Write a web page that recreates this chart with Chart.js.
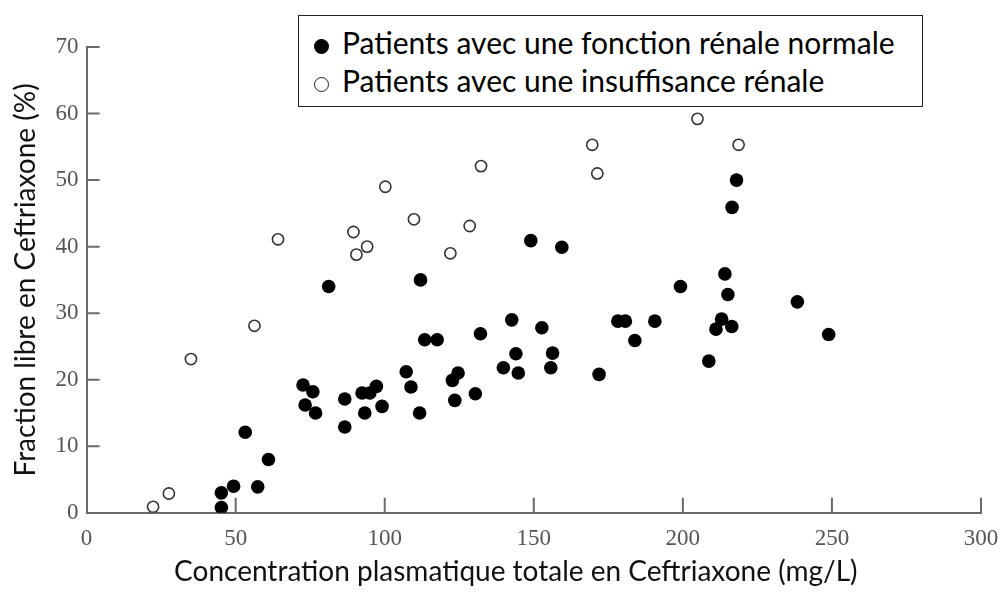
<!DOCTYPE html>
<html>
<head>
<meta charset="utf-8">
<script src="https://cdn.jsdelivr.net/npm/chart.js@4.4.1/dist/chart.umd.min.js"></script>
<style>
  html, body { margin: 0; padding: 0; background: #fff; }
  #wrap { position: relative; width: 1006px; height: 598px; }
  #legend {
    position: absolute; left: 298px; top: 15px; width: 623px; height: 90px;
    border: 1.5px solid #222; background: #fff;
    font-family: Lato, sans-serif; font-size: 30px; color: #000;
  }
  #legend div { position: absolute; left: 15px; white-space: nowrap; line-height: 30px; }
  #legend span.dot { display: inline-block; width: 15px; height: 15px; border-radius: 50%;
    box-sizing: border-box; margin-right: 13px; vertical-align: 0px; }
</style>
</head>
<body>
<div id="wrap">
  <canvas id="chart" width="1006" height="598"></canvas>
  <div id="legend"></div>
</div>
<script>
const seriesNames = ["Patients avec une fonction rénale normale", "Patients avec une insuffisance rénale"];

const normalX = [45.2, 45.2, 49.3, 53.2, 57.4, 61.0, 81.2, 72.6, 75.9, 73.3, 76.8, 86.6, 86.6, 92.4,
  95.0, 97.2, 93.3, 99.1, 112.0, 107.2, 108.8, 111.7, 113.4, 117.6, 124.6, 122.7, 123.5, 130.4,
  132.1, 139.8, 142.6, 144.0, 144.8, 149.0, 152.7, 156.3, 155.7, 159.4, 171.9, 178.2, 180.7,
  183.9, 190.6, 199.2, 208.7, 211.1, 213.0, 216.4, 214.1, 215.1, 216.5, 218.0, 238.4, 248.9];
const normalY = [3.0, 0.8, 4.0, 12.1, 3.9, 8.0, 34.0, 19.2, 18.2, 16.2, 15.0, 17.1, 12.9, 18.0,
  18.0, 19.0, 15.0, 16.0, 35.0, 21.2, 18.9, 15.0, 26.0, 26.0, 21.0, 19.9, 16.9, 17.9,
  26.9, 21.8, 29.0, 23.9, 21.0, 40.9, 27.8, 24.0, 21.8, 39.9, 20.8, 28.8, 28.8,
  25.9, 28.8, 34.0, 22.8, 27.6, 29.1, 28.0, 35.9, 32.8, 45.9, 50.0, 31.7, 26.8];

const renalX = [22.3, 27.6, 35.0, 56.3, 64.2, 89.5, 90.5, 94.1, 100.2, 109.8, 122.0, 128.5, 132.3,
  169.6, 171.3, 204.9, 218.7];
const renalY = [0.9, 2.9, 23.1, 28.1, 41.1, 42.2, 38.8, 40.0, 49.0, 44.1, 39.0, 43.1, 52.1,
  55.3, 51.0, 59.2, 55.3];

const xTicks = [0, 50, 100, 150, 200, 250, 300];
const yTicks = [0, 10, 20, 30, 40, 50, 60, 70];

const xTitle = "Concentration plasmatique totale en Ceftriaxone (mg/L)";
const yTitle = "Fraction libre en Ceftriaxone (%)";

const axisColor = "#6a6a6a";
const titleFont = { family: "Lato", size: 28 };

// short tick marks pointing into the plot, and the x title sitting a bit left of centre
const innerTicks = {
  id: "innerTicks",
  afterDatasetsDraw(chart) {
    const ctx = chart.ctx;
    const xs = chart.scales.x, ys = chart.scales.y;
    ctx.save();
    ctx.strokeStyle = axisColor;
    ctx.lineWidth = 2;
    ctx.beginPath();
    xTicks.forEach(v => {
      if (v === 0) return;
      const px = xs.getPixelForValue(v);
      ctx.moveTo(px, ys.bottom);
      ctx.lineTo(px, ys.bottom - 15);
    });
    yTicks.forEach(v => {
      if (v === 0) return;
      const py = ys.getPixelForValue(v);
      ctx.moveTo(xs.left, py);
      ctx.lineTo(xs.left + 13, py);
    });
    ctx.stroke();

    ctx.fillStyle = "#111";
    ctx.font = titleFont.size + "px " + titleFont.family;
    ctx.textAlign = "center";
    ctx.textBaseline = "middle";
    ctx.fillText(xTitle, (xs.left + xs.right) / 2 - 18, chart.height - 9 - titleFont.size * 0.6);
    ctx.restore();
  }
};

const toPts = (xa, ya) => xa.map((x, i) => ({ x: x, y: ya[i] }));

const chart = new Chart(document.getElementById("chart"), {
  type: "scatter",
  data: {
    datasets: [
      {
        label: seriesNames[1],
        data: toPts(renalX, renalY),
        pointRadius: 5.6,
        pointHoverRadius: 5.6,
        borderWidth: 1.6,
        borderColor: "#333",
        backgroundColor: "#fff"
      },
      {
        label: seriesNames[0],
        data: toPts(normalX, normalY),
        pointRadius: 6.8,
        pointHoverRadius: 6.8,
        borderWidth: 0,
        backgroundColor: "#000"
      }
    ]
  },
  options: {
    responsive: false,
    animation: false,
    layout: { padding: { left: 9, right: 0, top: 47, bottom: 0 } },
    plugins: { legend: { display: false }, tooltip: { enabled: false } },
    scales: {
      x: {
        type: "linear", min: 0, max: 300,
        afterBuildTicks: s => { s.ticks = xTicks.map(v => ({ value: v })); },
        afterFit: s => { s.paddingRight = 25; },
        grid: { drawOnChartArea: false, drawTicks: false },
        border: { color: axisColor, width: 2 },
        ticks: { padding: 12, color: "#555", font: { family: "Liberation Serif", size: 23 } },
        // space is kept here, the text itself is painted by the plugin above
        title: { display: true, text: xTitle, color: "rgba(0,0,0,0)",
          font: titleFont, padding: { top: -9, bottom: 9 } }
      },
      y: {
        type: "linear", min: 0, max: 70,
        afterBuildTicks: s => { s.ticks = yTicks.map(v => ({ value: v })); },
        grid: { drawOnChartArea: false, drawTicks: false },
        border: { color: axisColor, width: 2 },
        ticks: { padding: 8, color: "#555", font: { family: "Liberation Serif", size: 23 } },
        title: { display: true, text: yTitle, color: "#111",
          font: titleFont, padding: { top: 0, bottom: 5 } }
      }
    }
  },
  plugins: [innerTicks]
});

// legend box drawn in HTML, built from the series names
const leg = document.getElementById("legend");
[[seriesNames[0], "#000", "none"], [seriesNames[1], "#fff", "1.5px solid #222"]].forEach((it, i) => {
  const row = document.createElement("div");
  row.style.top = (11 + i * 37.5) + "px";
  const dot = document.createElement("span");
  dot.className = "dot";
  dot.style.background = it[1];
  dot.style.border = it[2];
  row.appendChild(dot);
  row.appendChild(document.createTextNode(it[0]));
  leg.appendChild(row);
});
</script>
</body>
</html>
